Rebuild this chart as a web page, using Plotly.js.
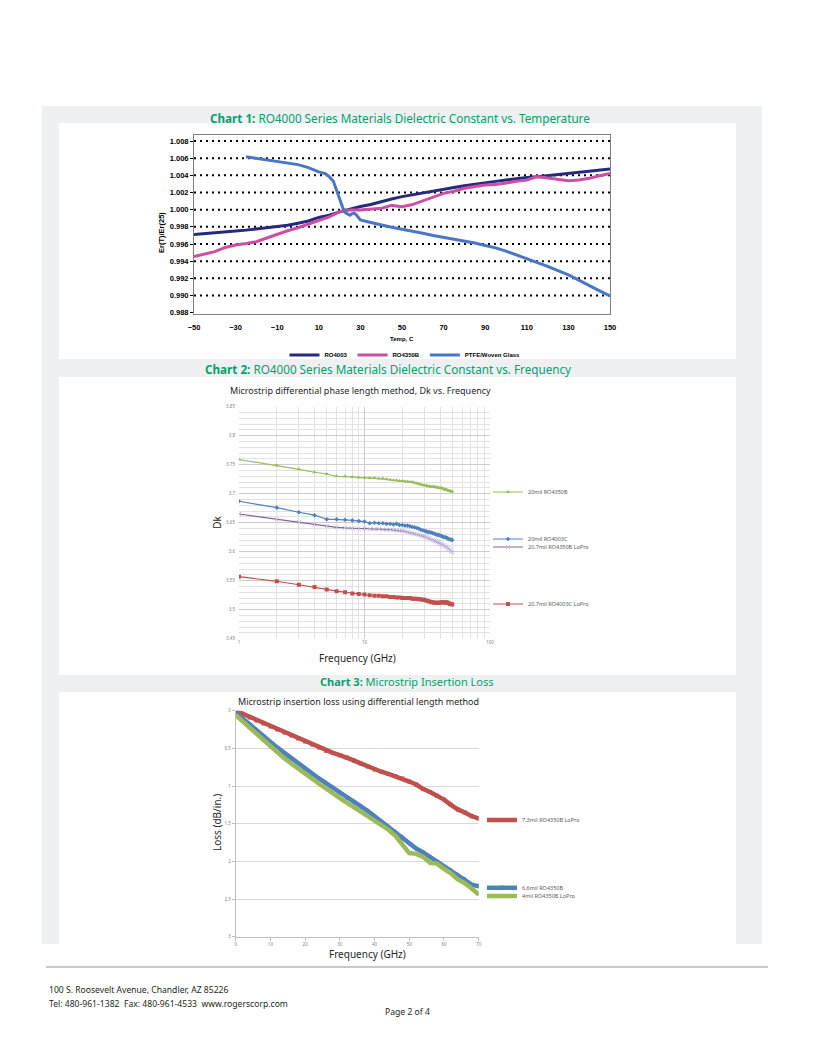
<!DOCTYPE html>
<html>
<head>
<meta charset="utf-8">
<script src="https://cdn.plot.ly/plotly-3.0.1.min.js"></script>
<style>html,body{margin:0;padding:0;background:#fff;}#chart{width:815px;height:1055px;}</style>
</head>
<body>
<div id="chart"></div>
<script>
// ---------- Chart 1 data : Er(T)/Er(25) vs temperature ----------
const tempStd = [-50,-45,-40,-35,-30,-25,-20,-15,-10,-5,0,5,10,15,20,25,30,35,40,45,50,55,60,65,70,75,80,85,90,95,100,105,110,115,120,125,130,135,140,145,150];
const ro4003 = [0.99712,0.99720,0.99730,0.99742,0.99752,0.99762,0.99775,0.99788,0.99802,0.99818,0.99842,0.99868,0.99910,0.99935,0.99975,1.00010,1.00038,1.00060,1.00095,1.00125,1.00152,1.00175,1.00198,1.00218,1.00238,1.00258,1.00278,1.00298,1.00315,1.00330,1.00345,1.00362,1.00374,1.00385,1.00398,1.00410,1.00420,1.00440,1.00452,1.00463,1.00475];
const ro4350b = [0.99453,0.99480,0.99511,0.99560,0.99589,0.99605,0.99627,0.99670,0.99717,0.99755,0.99790,0.99830,0.99872,0.99915,0.99977,0.99995,0.99996,1.00008,1.00016,1.00050,1.00035,1.00060,1.00105,1.00145,1.00190,1.00215,1.00249,1.00270,1.00287,1.00292,1.00307,1.00330,1.00346,1.00385,1.00368,1.00350,1.00338,1.00345,1.00365,1.00395,1.00423];
const tempPtfe = [-25,-20,-15,-10,-5,0,5,10,13,15,17,18,19,20,21,22,23,24,25,26,27,28,29,30,35,40,45,50,55,60,65,70,75,80,85,90,95,100,105,110,115,120,125,130,135,140,145,150];
const ptfe = [1.00617,1.00598,1.00580,1.00559,1.00542,1.00525,1.00490,1.00440,1.00420,1.00385,1.00330,1.00260,1.00180,1.00110,1.00040,0.99990,0.99960,0.99945,0.99935,0.99955,0.99960,0.99940,0.99905,0.99880,0.99850,0.99820,0.99795,0.99772,0.99745,0.99725,0.99700,0.99678,0.99660,0.99640,0.99612,0.99582,0.99555,0.99518,0.99475,0.99435,0.99390,0.99340,0.99290,0.99240,0.99180,0.99115,0.99055,0.98995];
const c1TempTicks = [-50,-30,-10,10,30,50,70,90,110,130,150];
const c1RatioTicks = [0.988,0.990,0.992,0.994,0.996,0.998,1.000,1.002,1.004,1.006,1.008];
const c1GridVals = [0.990,0.992,0.994,0.996,0.998,1.000,1.002,1.004,1.006,1.008];

// ---------- Chart 2 data : Dk vs frequency ----------
const freqDk = [1,2,3,4,5,6,7,8,9,10,11,12,13,14,15,16,17,18,19,20,21,22,23,24,25,26,27,28,29,30,31,32,33,34,35,36,37,38,39,40,41,42,43,44,45,46,47,48,49,50];
const dk20RO4350B = [3.759,3.749,3.742,3.737,3.734,3.730,3.730,3.729,3.728,3.728,3.727,3.727,3.726,3.726,3.725,3.724,3.723,3.723,3.722,3.722,3.721,3.721,3.720,3.720,3.719,3.718,3.717,3.716,3.715,3.714,3.714,3.713,3.713,3.712,3.712,3.712,3.711,3.711,3.710,3.710,3.710,3.709,3.708,3.707,3.707,3.706,3.705,3.705,3.704,3.704];
const dk20RO4003C = [3.687,3.676,3.668,3.663,3.656,3.656,3.655,3.654,3.653,3.652,3.649,3.650,3.649,3.649,3.648,3.648,3.647,3.648,3.646,3.646,3.645,3.645,3.644,3.643,3.642,3.641,3.640,3.638,3.637,3.636,3.635,3.634,3.634,3.633,3.632,3.631,3.630,3.629,3.629,3.628,3.627,3.626,3.625,3.625,3.624,3.623,3.622,3.621,3.621,3.620];
const dk207RO4350BLoPro = [3.665,3.656,3.651,3.647,3.644,3.642,3.641,3.640,3.640,3.640,3.639,3.639,3.639,3.638,3.638,3.638,3.637,3.637,3.636,3.636,3.635,3.634,3.633,3.632,3.631,3.630,3.629,3.628,3.627,3.626,3.625,3.624,3.623,3.621,3.620,3.619,3.618,3.617,3.616,3.614,3.613,3.612,3.611,3.609,3.608,3.606,3.605,3.603,3.601,3.599];
const dk207RO4003CLoPro = [3.557,3.549,3.543,3.539,3.535,3.532,3.530,3.528,3.527,3.526,3.525,3.524,3.524,3.523,3.523,3.522,3.522,3.521,3.521,3.520,3.520,3.520,3.520,3.519,3.519,3.519,3.518,3.518,3.517,3.517,3.516,3.515,3.514,3.513,3.513,3.512,3.512,3.512,3.512,3.512,3.513,3.513,3.513,3.512,3.513,3.512,3.511,3.510,3.510,3.509];
const c2FreqTicks = [1,10,100];
const c2FreqMinor = [2,3,4,5,6,7,8,9,20,30,40,50,60,70,80,90];

// ---------- Chart 3 data : insertion loss vs frequency ----------
const freqLoss = [0,2,4,6,8,10,12,14,16,18,20,22,24,26,28,30,32,34,36,38,40,42,44,46,48,50,52,54,56,58,60,62,64,66,68,70];
const loss73LoPro = [0,0.04,0.09,0.13,0.17,0.21,0.25,0.29,0.33,0.37,0.41,0.45,0.49,0.53,0.56,0.59,0.62,0.66,0.70,0.74,0.78,0.81,0.84,0.87,0.90,0.94,0.98,1.04,1.08,1.13,1.18,1.25,1.31,1.35,1.40,1.43];
const loss66RO4350B = [0.03,0.10,0.18,0.26,0.34,0.42,0.49,0.56,0.63,0.70,0.77,0.84,0.90,0.96,1.02,1.09,1.15,1.21,1.27,1.33,1.40,1.47,1.54,1.61,1.68,1.76,1.83,1.88,1.94,2.00,2.07,2.12,2.18,2.24,2.31,2.33];
const loss4LoPro = [0.06,0.14,0.23,0.31,0.40,0.48,0.55,0.63,0.70,0.77,0.84,0.91,0.97,1.03,1.10,1.16,1.22,1.28,1.34,1.39,1.45,1.52,1.58,1.66,1.77,1.89,1.90,1.94,2.02,2.03,2.10,2.16,2.24,2.29,2.36,2.44];

// ---------- helpers (pixel -> paper) ----------
const W = 815, H = 1055;
const PX = v => v / W;
const PY = v => 1 - v / H;

const green = '#00a46c';
const c1Font = {family: 'Liberation Sans, Arial, sans-serif', size: 7.5, color: '#000', weight: 'bold'};
const smallTick = {family: 'Noto Sans, sans-serif', size: 4.5, color: '#808080'};
const legFont = {family: 'Noto Sans, sans-serif', size: 5.5, color: '#595959'};

const traces = [
  {x: tempStd, y: ro4003, name: 'RO4003', type: 'scatter', mode: 'lines', line: {color: '#262a7e', width: 3}, xaxis: 'x', yaxis: 'y', legend: 'legend'},
  {x: tempStd, y: ro4350b, name: 'RO4350B', type: 'scatter', mode: 'lines', line: {color: '#cc4fa3', width: 3}, xaxis: 'x', yaxis: 'y', legend: 'legend'},
  {x: tempPtfe, y: ptfe, name: 'PTFE/Woven Glass', type: 'scatter', mode: 'lines', line: {color: '#4a76c8', width: 3}, xaxis: 'x', yaxis: 'y', legend: 'legend'},

  {x: freqDk, y: dk20RO4350B, name: '20mil RO4350B', type: 'scatter', mode: 'lines+markers', line: {color: '#9bbb59', width: 1.2}, marker: {symbol: 'triangle-up', size: 4, color: '#9bbb59'}, xaxis: 'x2', yaxis: 'y2', legend: 'legend2'},
  {x: freqDk, y: dk20RO4003C, name: '20mil RO4003C', type: 'scatter', mode: 'lines+markers', line: {color: '#4f81bd', width: 1.2}, marker: {symbol: 'diamond', size: 3.5, color: '#4f81bd'}, xaxis: 'x2', yaxis: 'y2', legend: 'legend3'},
  {x: freqDk, y: dk207RO4350BLoPro, name: '20.7mil RO4350B LoPro', type: 'scatter', mode: 'lines+markers', line: {color: '#8064a2', width: 1.2}, marker: {symbol: 'x-thin', size: 4, color: '#c4b6dc', line: {color: '#c4b6dc', width: 1}}, xaxis: 'x2', yaxis: 'y2', legend: 'legend4'},
  {x: freqDk, y: dk207RO4003CLoPro, name: '20.7mil RO4003C LoPro', type: 'scatter', mode: 'lines+markers', line: {color: '#c0504d', width: 1.2}, marker: {symbol: 'square', size: 4, color: '#c0504d'}, xaxis: 'x2', yaxis: 'y2', legend: 'legend5'},

  {x: freqLoss, y: loss73LoPro, name: '7.3mil RO4350B LoPro', type: 'scatter', mode: 'lines+markers', line: {color: '#c0504d', width: 4.5}, marker: {symbol: 'square', size: 4, color: '#c0504d'}, xaxis: 'x3', yaxis: 'y3', legend: 'legend6'},
  {x: freqLoss, y: loss66RO4350B, name: '6.6mil RO4350B', type: 'scatter', mode: 'lines+markers', line: {color: '#4f81bd', width: 4.5}, marker: {symbol: 'diamond', size: 4, color: '#4f81bd'}, xaxis: 'x3', yaxis: 'y3', legend: 'legend7'},
  {x: freqLoss, y: loss4LoPro, name: '4mil RO4350B LoPro', type: 'scatter', mode: 'lines+markers', line: {color: '#9bbb59', width: 4.5}, marker: {symbol: 'triangle-up', size: 4, color: '#9bbb59'}, xaxis: 'x3', yaxis: 'y3', legend: 'legend8'}
];

function smallLegend(x, y) {
  return {x: PX(x), y: PY(y), xanchor: 'left', yanchor: 'middle', bgcolor: 'rgba(0,0,0,0)', borderwidth: 0, font: legFont, itemwidth: 30};
}

const shapes = [
  {type: 'rect', xref: 'paper', yref: 'paper', x0: PX(42), x1: PX(762), y0: PY(944), y1: PY(106), fillcolor: '#eff0f2', line: {width: 0}, layer: 'below'},
  {type: 'rect', xref: 'paper', yref: 'paper', x0: PX(59), x1: PX(736), y0: PY(359), y1: PY(123), fillcolor: '#ffffff', line: {width: 0}, layer: 'below'},
  {type: 'rect', xref: 'paper', yref: 'paper', x0: PX(59), x1: PX(736), y0: PY(675), y1: PY(377), fillcolor: '#ffffff', line: {width: 0}, layer: 'below'},
  {type: 'rect', xref: 'paper', yref: 'paper', x0: PX(59), x1: PX(736), y0: PY(944), y1: PY(692), fillcolor: '#ffffff', line: {width: 0}, layer: 'below'},
  {type: 'line', xref: 'paper', yref: 'paper', x0: PX(46), x1: PX(768), y0: PY(967), y1: PY(967), line: {color: '#c8c8c8', width: 2}}
];
c1GridVals.forEach(v => shapes.push({type: 'line', xref: 'x domain', yref: 'y', x0: 0, x1: 1, y0: v, y1: v, line: {color: '#000', width: 2, dash: '2px,4px'}, layer: 'below'}));

function ann(text, x, y, font, extra) {
  return Object.assign({text: text, x: PX(x), y: PY(y), xref: 'paper', yref: 'paper', showarrow: false, xanchor: 'center', yanchor: 'middle', font: font}, extra || {});
}
const hdrFont = {family: 'Noto Sans, sans-serif', size: 11.7, color: green};
const hdrFont3 = {family: 'Noto Sans, sans-serif', size: 11, color: green};
const ttlFont = {family: 'Noto Sans, sans-serif', size: 9, color: '#262626'};
const axFont = {family: 'Noto Sans, sans-serif', size: 10, color: '#262626'};
const footFont = {family: 'Noto Sans, sans-serif', size: 8.6, color: '#231f20'};

const annotations = [
  ann('<b>Chart 1:</b> RO4000 Series Materials Dielectric Constant vs. Temperature', 400, 118, hdrFont),
  ann('<b>Chart 2:</b> RO4000 Series Materials Dielectric Constant vs. Frequency', 388, 369, hdrFont),
  ann('<b>Chart 3:</b> Microstrip Insertion Loss', 407, 681, hdrFont3),
  ann('Temp, C', 402, 339, {family: 'Liberation Sans, Arial, sans-serif', size: 6, color: '#000', weight: 'bold'}),
  ann('Er(T)/Er(25)', 162, 233, c1Font, {textangle: -90}),
  ann('Microstrip differential phase length method, Dk vs. Frequency', 360, 391, ttlFont),
  ann('Frequency (GHz)', 357.5, 658, axFont),
  ann('Dk', 216.7, 522, axFont, {textangle: -90}),
  ann('Microstrip insertion loss using differential length method', 358.7, 701, ttlFont),
  ann('Frequency (GHz)', 367.5, 954, axFont),
  ann('Loss (dB/in.)', 217, 823, axFont, {textangle: -90}),
  ann('100 S. Roosevelt Avenue, Chandler, AZ 85226', 47, 990, footFont, {xanchor: 'left'}),
  ann('Tel: 480-961-1382\u00a0\u00a0Fax: 480-961-4533\u00a0\u00a0www.rogerscorp.com', 47, 1004, footFont, {xanchor: 'left'}),
  ann('Page 2 of 4', 407, 1012, footFont)
];

const layout = {
  width: W, height: H,
  margin: {l: 0, r: 0, t: 0, b: 0},
  paper_bgcolor: '#ffffff', plot_bgcolor: 'rgba(0,0,0,0)',
  showlegend: true,
  xaxis: {domain: [PX(194), PX(610)], range: [-50, 150], tickmode: 'array', tickvals: c1TempTicks, showgrid: false, zeroline: false, showline: true, mirror: true, linecolor: '#7f7f7f', linewidth: 1, ticks: '', ticklabelstandoff: 6, tickfont: c1Font, anchor: 'y', fixedrange: true},
  yaxis: {domain: [PY(314), PY(135)], range: [0.98785, 1.0087], tickmode: 'array', tickvals: c1RatioTicks, tickformat: '.3f', showgrid: false, zeroline: false, showline: true, mirror: true, linecolor: '#7f7f7f', linewidth: 1, ticks: 'outside', ticklen: 3, tickcolor: '#000', tickfont: c1Font, anchor: 'x', fixedrange: true},

  xaxis2: {type: 'log', domain: [PX(239), PX(490)], range: [0, 2], tickmode: 'array', tickvals: c2FreqTicks, ticktext: ['1','10','100'], showgrid: true, gridcolor: '#cccccc', gridwidth: 1, minor: {tickmode: 'array', tickvals: c2FreqMinor, showgrid: true, gridcolor: '#e2e2e2', ticks: ''}, zeroline: false, showline: false, ticks: '', tickfont: smallTick, anchor: 'y2', fixedrange: true},
  yaxis2: {domain: [PY(638.7), PY(406.7)], range: [3.45, 3.85], tick0: 3.45, dtick: 0.05, showgrid: true, gridcolor: '#cccccc', minor: {dtick: 0.01, showgrid: true, gridcolor: '#e2e2e2', ticks: ''}, zeroline: false, showline: false, ticks: '', ticklabelstandoff: 3, tickfont: smallTick, anchor: 'x2', fixedrange: true},

  xaxis3: {domain: [PX(235.7), PX(478.7)], range: [0, 70], dtick: 10, showgrid: false, zeroline: false, showline: true, linecolor: '#bfbfbf', ticks: 'outside', ticklen: 3, tickcolor: '#bfbfbf', tickfont: smallTick, anchor: 'y3', fixedrange: true},
  yaxis3: {domain: [PY(936.7), PY(710.7)], range: [3, 0], dtick: 0.5, showgrid: true, gridcolor: '#d9d9d9', zeroline: false, showline: true, linecolor: '#bfbfbf', ticks: 'outside', ticklen: 3, tickcolor: '#bfbfbf', tickfont: smallTick, anchor: 'x3', fixedrange: true},

  legend: {orientation: 'h', x: PX(405), xanchor: 'center', y: PY(355), yanchor: 'middle', bgcolor: 'rgba(0,0,0,0)', font: {family: 'Liberation Sans, Arial, sans-serif', size: 6, color: '#000', weight: 'bold'}, itemwidth: 30, traceorder: 'normal'},
  legend2: smallLegend(488, 492),
  legend3: smallLegend(488, 539),
  legend4: smallLegend(488, 547),
  legend5: smallLegend(488, 604),
  legend6: smallLegend(482, 820),
  legend7: smallLegend(482, 887.7),
  legend8: smallLegend(482, 896),
  shapes: shapes,
  annotations: annotations
};

Plotly.newPlot('chart', traces, layout, {displayModeBar: false, staticPlot: true});
</script>
</body>
</html>
